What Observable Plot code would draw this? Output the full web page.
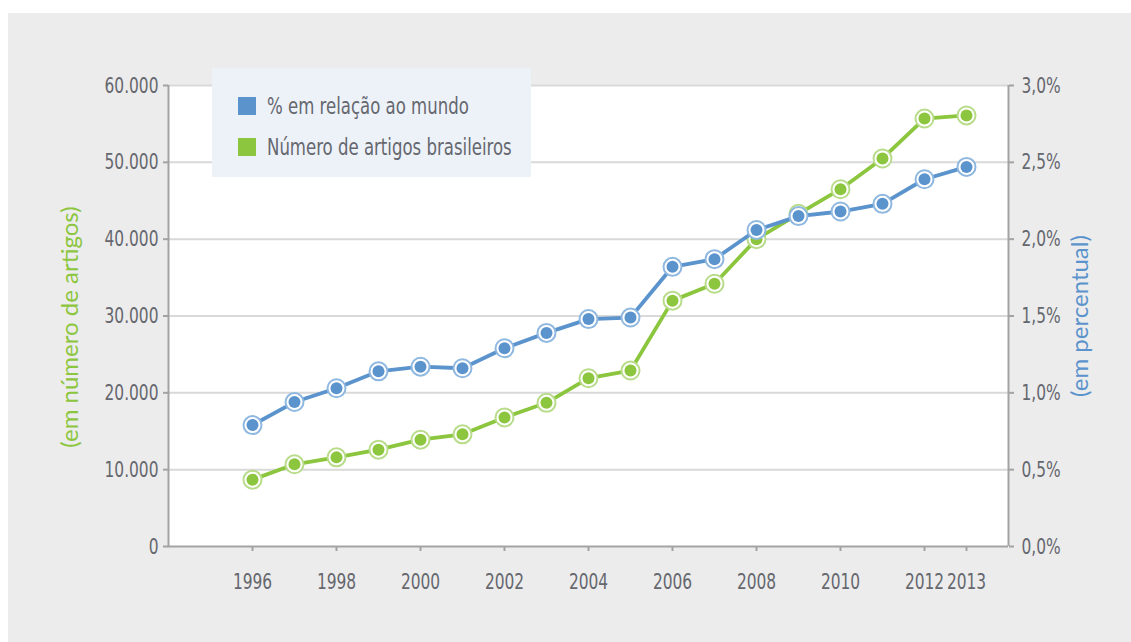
<!DOCTYPE html>
<html>
<head>
<meta charset="utf-8">
<script src="https://cdn.jsdelivr.net/npm/d3@7"></script>
<script src="https://cdn.jsdelivr.net/npm/@observablehq/plot@0.6"></script>
<style>
  html, body { margin: 0; padding: 0; background: #ffffff; width: 1131px; height: 642px; overflow: hidden; }
  #panel { position: absolute; left: 8px; top: 13px; width: 1123px; height: 629px; background: #ececec; }
  #legend {
    position: absolute; left: 204px; top: 55px; width: 319px; height: 109px;
    background: #edf2f9; font-family: "DejaVu Sans Condensed", "DejaVu Sans", sans-serif; font-stretch: condensed;
    font-size: 23px; color: #65676e; white-space: nowrap;
  }
  .item { position: absolute; left: 26px; display: flex; align-items: center; }
  .sw { width: 18px; height: 18px; margin-right: 11px; flex: none; }
  .lbl { display: inline-block; transform: scaleX(0.8); transform-origin: left center; }
</style>
</head>
<body>
<div id="panel">
  <div id="chart"></div>
  <div id="legend">
    <div class="item" style="top:25px"><div class="sw" style="background:#5b93cd"></div><span class="lbl">% em relação ao mundo</span></div>
    <div class="item" style="top:66px"><div class="sw" style="background:#8cc63e"></div><span class="lbl">Número de artigos brasileiros</span></div>
  </div>
</div>
<script>
// Produção científica brasileira, 1996–2013
const anos = [1996, 1997, 1998, 1999, 2000, 2001, 2002, 2003, 2004, 2005, 2006, 2007, 2008, 2009, 2010, 2011, 2012, 2013];
const artigos = [8700, 10700, 11600, 12600, 13900, 14600, 16800, 18700, 21900, 22900, 32000, 34200, 40000, 43300, 46500, 50500, 55700, 56100];
const percentual = [0.79, 0.94, 1.03, 1.14, 1.17, 1.16, 1.29, 1.39, 1.48, 1.49, 1.82, 1.87, 2.06, 2.15, 2.18, 2.23, 2.39, 2.47];
const ticksX = [1996, 1998, 2000, 2002, 2004, 2006, 2008, 2010, 2012, 2013];
const ticksArtigos = [0, 10000, 20000, 30000, 40000, 50000, 60000];
const ticksPercentual = [0, 0.5, 1.0, 1.5, 2.0, 2.5, 3.0];

// both series share one y scale: 3,0% sits at the 60.000 line
const fator = 60000 / 3;

const azul = "#5b93cd", azulClaro = "#8fb8e0";
const verde = "#8cc63e", verdeClaro = "#b8dc8a";
const cinza = "#a3a3a3", texto = "#65676e";

const serieArtigos = anos.map((a, i) => ({ano: a, v: artigos[i]}));
const seriePct = anos.map((a, i) => ({ano: a, v: percentual[i] * fator}));

const fmtMil = d => d === 0 ? "0" : d3.format(",")(d).replace(/,/g, ".");
const fmtPct = d => (d / fator).toFixed(1).replace(".", ",") + "%";

const chart = Plot.plot({
  width: 1123,
  height: 629,
  marginLeft: 160,
  marginRight: 123,
  marginTop: 72,
  marginBottom: 96,
  style: {
    background: "transparent",
    fontFamily: "'DejaVu Sans Condensed', 'DejaVu Sans', sans-serif",
    fontStretch: "condensed",
    fontSize: "22px",
    color: texto
  },
  x: {domain: [1994, 2014]},
  y: {domain: [0, 60000]},
  marks: [
    Plot.frame({fill: "white", stroke: null}),
    Plot.ruleY(ticksArtigos.slice(1), {stroke: "#d9d9d9", strokeWidth: 2}),
    Plot.ruleX([1994, 2014], {stroke: cinza, strokeWidth: 2}),
    Plot.ruleY([0], {stroke: cinza, strokeWidth: 2}),
    Plot.axisY({anchor: "left", ticks: ticksArtigos, tickFormat: fmtMil, tickSize: 5, tickPadding: 5, stroke: cinza, strokeWidth: 2, fill: texto, label: null}),
    Plot.axisY({anchor: "right", ticks: ticksPercentual.map(p => p * fator), tickFormat: fmtPct, tickSize: 5, tickPadding: 8, stroke: cinza, strokeWidth: 2, fill: texto, label: null}),
    Plot.axisX({anchor: "bottom", ticks: ticksX, tickFormat: d => String(d), tickSize: 5, tickPadding: 22, stroke: cinza, strokeWidth: 2, fill: texto, label: null}),
    Plot.text(["(em número de artigos)"], {frameAnchor: "left", textAnchor: "middle", dx: -98, dy: 11, rotate: -90, fill: verde, fontSize: 24, fontFamily: "Lato, sans-serif", fontStretch: "normal"}),
    Plot.text(["(em percentual)"], {frameAnchor: "right", textAnchor: "middle", dx: 72, dy: 0, rotate: -90, fill: azul, fontSize: 24, fontFamily: "Lato, sans-serif", fontStretch: "normal"}),
    // número de artigos
    Plot.line(serieArtigos, {x: "ano", y: "v", stroke: verde, strokeWidth: 3.8}),
    Plot.dot(serieArtigos, {x: "ano", y: "v", r: 9, fill: "white", stroke: verdeClaro, strokeWidth: 2}),
    Plot.dot(serieArtigos, {x: "ano", y: "v", r: 6, fill: verde}),
    // % em relação ao mundo
    Plot.line(seriePct, {x: "ano", y: "v", stroke: azul, strokeWidth: 3.8}),
    Plot.dot(seriePct, {x: "ano", y: "v", r: 9, fill: "white", stroke: azulClaro, strokeWidth: 2}),
    Plot.dot(seriePct, {x: "ano", y: "v", r: 6, fill: azul})
  ]
});

// narrow the tick labels horizontally around their own anchor points
chart.querySelectorAll("g[aria-label$='tick label'] text").forEach(t => {
  const x = +t.getAttribute("x") || 0, y = +t.getAttribute("y") || 0;
  const base = t.getAttribute("transform") || "";
  t.setAttribute("transform", `${base} translate(${x},${y}) scale(0.78,1) translate(${-x},${-y})`);
});

document.getElementById("chart").append(chart);
</script>
</body>
</html>
